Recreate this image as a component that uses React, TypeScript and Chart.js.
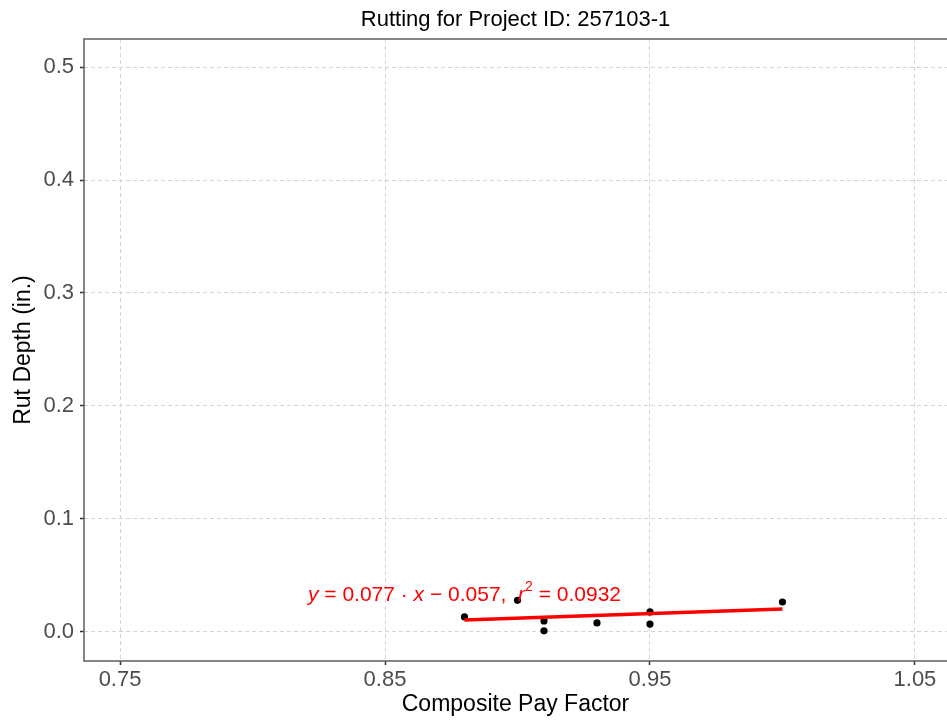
import React, { useEffect, useRef } from "react";
import { Chart, registerables } from "chart.js";

Chart.register(...registerables);

// ---- data ----
const pointsX = [0.88, 0.9, 0.91, 0.91, 0.93, 0.95, 0.95, 1.0];
const pointsY = [0.0133, 0.028, 0.0097, 0.001, 0.008, 0.0177, 0.007, 0.0265];
const fitX = [0.88, 1.0];
const fitY = [0.0106, 0.0204];
const xTicks = [0.75, 0.85, 0.95, 1.05];
const yTicks = [0, 0.1, 0.2, 0.3, 0.4, 0.5];
const xRange = [0.7364, 1.0621];
const yRange = [-0.0257, 0.5248];
const titleText = "Rutting for Project ID: 257103-1";
const xTitle = "Composite Pay Factor";
const yTitle = "Rut Depth (in.)";
const eqAnchor = { x: 0.88, y: 0.0325 };
// [text, style] style: "i" italic, "n" normal, "sup" superscript
const eqParts: [string, string][] = [
  ["y", "i"],
  [" = 0.077 \u00B7 ", "n"],
  ["x", "i"],
  [" \u2212 0.057,  ", "n"],
  ["r", "i"],
  ["2", "sup"],
  [" = 0.0932", "n"],
];

const FONT = "'Liberation Sans', Arial, sans-serif";

const decorPlugin = {
  id: "decor",
  afterDraw(chart: any) {
    const { ctx, chartArea, scales } = chart;
    ctx.save();
    // panel border
    ctx.strokeStyle = "#5e5e5e";
    ctx.lineWidth = 1.5;
    ctx.beginPath();
    ctx.moveTo(chartArea.right + 5, chartArea.top);
    ctx.lineTo(chartArea.left, chartArea.top);
    ctx.lineTo(chartArea.left, chartArea.bottom);
    ctx.lineTo(chartArea.right + 5, chartArea.bottom);
    ctx.stroke();

    // title
    ctx.fillStyle = "#000";
    ctx.font = `22px ${FONT}`;
    ctx.textAlign = "center";
    ctx.textBaseline = "middle";
    ctx.fillText(titleText, (chartArea.left + chartArea.right) / 2, 20);

    // equation
    const size = 21;
    const fontFor = (s: string) =>
      s === "i" ? `italic ${size}px ${FONT}` : s === "sup" ? `14px ${FONT}` : `${size}px ${FONT}`;
    let total = 0;
    const widths = eqParts.map(([t, s]) => {
      ctx.font = fontFor(s);
      const w = ctx.measureText(t).width;
      total += w;
      return w;
    });
    const cx = scales.x.getPixelForValue(eqAnchor.x);
    const cy = scales.y.getPixelForValue(eqAnchor.y);
    let x = cx - total / 2;
    ctx.fillStyle = "#ff0000";
    ctx.textAlign = "left";
    ctx.textBaseline = "middle";
    eqParts.forEach(([t, s], i) => {
      ctx.font = fontFor(s);
      ctx.fillText(t, x, s === "sup" ? cy - 8 : cy);
      x += widths[i];
    });
    ctx.restore();
  },
};

const zeroPad = (s: any) => {
  s.paddingLeft = 0;
  s.paddingRight = 0;
  s.paddingTop = 0;
  s.paddingBottom = 0;
};

export default function App() {
  const ref = useRef<HTMLCanvasElement>(null);
  useEffect(() => {
    document.body.style.margin = "0";
    const chart = new Chart(ref.current!, {
      type: "scatter",
      data: {
        datasets: [
          {
            type: "line",
            data: fitX.map((x, i) => ({ x, y: fitY[i] })),
            borderColor: "#ff0000",
            borderWidth: 3.5,
            pointRadius: 0,
            fill: false,
          } as any,
          {
            data: pointsX.map((x, i) => ({ x, y: pointsY[i] })),
            backgroundColor: "#000",
            borderColor: "#000",
            pointRadius: 3.6,
            borderWidth: 0,
          },
        ],
      },
      options: {
        animation: false,
        responsive: false,
        events: [],
        layout: { autoPadding: false, padding: { top: 39, left: 0, right: 0, bottom: 0 } },
        plugins: { legend: { display: false }, tooltip: { enabled: false }, title: { display: false } },
        scales: {
          x: {
            type: "linear",
            min: xRange[0],
            max: xRange[1],
            afterBuildTicks: (s: any) => {
              s.ticks = xTicks.map((v) => ({ value: v }));
            },
            afterFit: (s: any) => {
              s.height = 60;
              zeroPad(s);
            },
            ticks: {
              color: "#4d4d4d",
              font: { family: FONT, size: 22 },
              padding: 2,
              maxRotation: 0,
              autoSkip: false,
              callback: (v: any) => Number(v).toFixed(2),
            },
            grid: {
              color: "#d4d4d4",
              lineWidth: 1,
              tickLength: 4,
              tickColor: "#333",
              tickWidth: 1.5,
            },
            border: { display: false, dash: [4, 3] },
            title: {
              display: true,
              text: xTitle,
              color: "#000",
              font: { family: FONT, size: 23 },
              padding: { top: 0, bottom: 3 },
            },
          },
          y: {
            type: "linear",
            min: yRange[0],
            max: yRange[1],
            afterBuildTicks: (s: any) => {
              s.ticks = yTicks.map((v) => ({ value: v }));
            },
            afterFit: (s: any) => {
              s.width = 84;
              zeroPad(s);
            },
            ticks: {
              color: "#4d4d4d",
              font: { family: FONT, size: 22 },
              padding: 6,
              autoSkip: false,
              callback: (v: any) => Number(v).toFixed(1),
            },
            grid: {
              color: "#d4d4d4",
              lineWidth: 1,
              tickLength: 4,
              tickColor: "#333",
              tickWidth: 1.5,
            },
            border: { display: false, dash: [4, 3] },
            title: {
              display: true,
              text: yTitle,
              color: "#000",
              font: { family: FONT, size: 23 },
              padding: { top: 10, bottom: 0 },
            },
          },
        },
      } as any,
      plugins: [decorPlugin],
    });
    return () => chart.destroy();
  }, []);
  return (
    <div style={{ position: "absolute", left: 0, top: 0, width: 947, height: 721 }}>
      <canvas ref={ref} width={947} height={721} />
    </div>
  );
}
